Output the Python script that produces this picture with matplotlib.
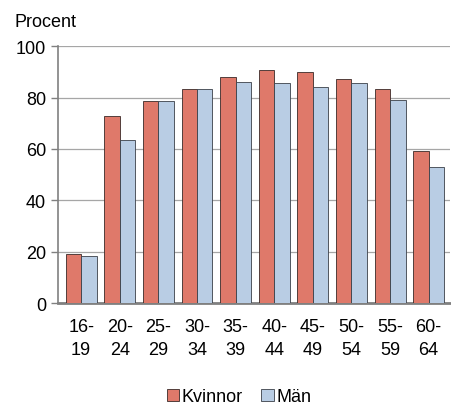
import matplotlib.pyplot as plt
import numpy as np

plt.rcParams['font.family'] = ['Liberation Sans', 'DejaVu Sans']

# Data
groups = ["16-\n19", "20-\n24", "25-\n29", "30-\n34", "35-\n39",
          "40-\n44", "45-\n49", "50-\n54", "55-\n59", "60-\n64"]
kvinnor = [18.9, 72.9, 78.5, 83.3, 87.8, 90.8, 89.8, 87.4, 83.5, 59.0]
man = [18.2, 63.3, 78.5, 83.3, 86.0, 85.7, 84.0, 85.7, 79.0, 52.9]

fig = plt.figure(figsize=(4.51, 4.10), dpi=100)
ax = fig.add_axes([0.1286, 0.2585, 0.869, 0.6265])

x = np.arange(len(groups))
w = 0.4
ax.bar(x - w / 2, kvinnor, w, color='#DF796A', edgecolor='#3a2a28', linewidth=0.6,
       label='Kvinnor', zorder=3)
ax.bar(x + w / 2, man, w, color='#B9CDE4', edgecolor='#3a3f48', linewidth=0.6,
       label='Män', zorder=3)

ax.set_xlim(-0.6, len(groups) - 0.45)
ax.set_ylim(0, 100)
ax.set_yticks([0, 20, 40, 60, 80, 100])
ax.yaxis.grid(True, color='#a6a6a6', linewidth=0.9, zorder=0)
ax.set_xticks(x)
ax.set_xticklabels(groups, fontsize=13, linespacing=1.45)
ax.tick_params(axis='y', labelsize=13, length=5, color='#808080', width=1)
ax.tick_params(axis='x', length=0, pad=11)

for s in ['top', 'right']:
    ax.spines[s].set_visible(False)
ax.spines['left'].set_color('#808080')
ax.spines['left'].set_linewidth(1.2)
ax.spines['bottom'].set_color('#808080')
ax.spines['bottom'].set_linewidth(2)

fig.text(0.033, 0.946, 'Procent', fontsize=13, va='center', ha='left')

fig.legend(loc='center', bbox_to_anchor=(0.53, 0.03), ncol=2, frameon=False,
           fontsize=13, handlelength=0.7, handleheight=0.7, handletextpad=0.15,
           columnspacing=1.0)

fig.savefig('out.png', dpi=100)
